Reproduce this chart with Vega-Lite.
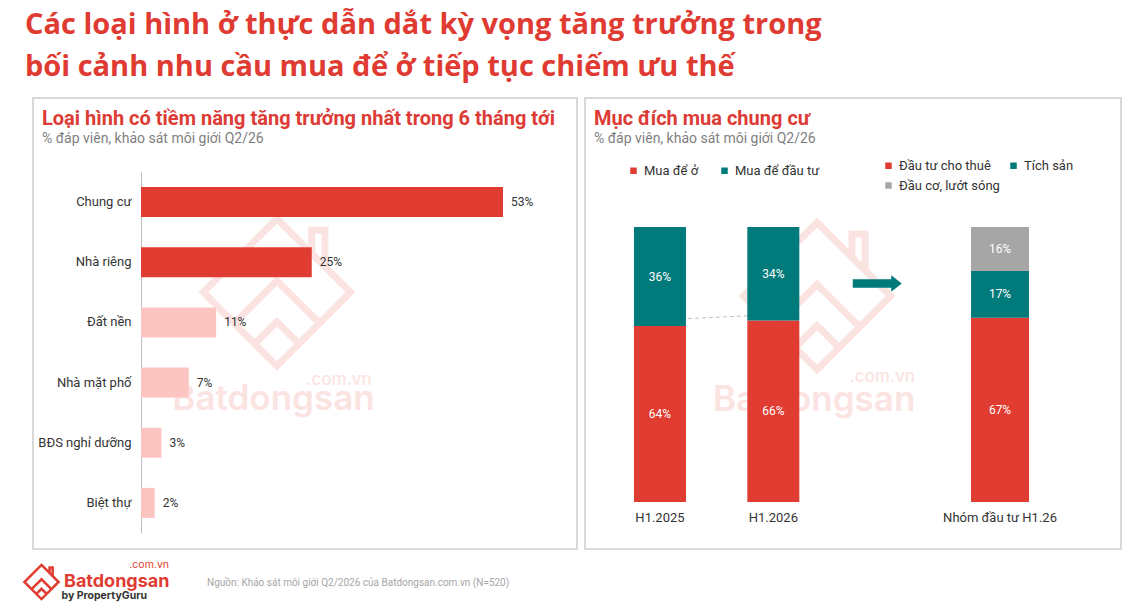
{
  "$schema": "https://vega.github.io/schema/vega-lite/v6.json",
  "background": "white",
  "padding": {"left": 22, "top": 11, "right": 0, "bottom": 0},
  "config": {"font": "Roboto", "view": {"stroke": "#d9d9d9", "strokeWidth": 2}},
  "title": {
    "text": ["Các loại hình ở thực dẫn dắt kỳ vọng tăng trưởng trong", "bối cảnh nhu cầu mua để ở tiếp tục chiếm ưu thế"],
    "font": "Open Sans", "fontSize": 29, "fontWeight": "bold", "color": "#df3b32",
    "anchor": "start", "frame": "bounds", "dx": 3, "lineHeight": 42, "offset": 15
  },
  "datasets": {
    "loai_hinh": [
      {"loai": "Chung cư", "v": 53},
      {"loai": "Nhà riêng", "v": 25},
      {"loai": "Đất nền", "v": 11},
      {"loai": "Nhà mặt phố", "v": 7},
      {"loai": "BĐS nghỉ dưỡng", "v": 3},
      {"loai": "Biệt thự", "v": 2}
    ],
    "muc_dich": [
      {"cat": "H1.2025", "k": "Mua để ở", "v": 64},
      {"cat": "H1.2025", "k": "Mua để đầu tư", "v": 36},
      {"cat": "H1.2026", "k": "Mua để ở", "v": 66},
      {"cat": "H1.2026", "k": "Mua để đầu tư", "v": 34}
    ],
    "nhom": [
      {"cat": "Nhóm đầu tư H1.26", "k": "Đầu tư cho thuê", "v": 67},
      {"cat": "Nhóm đầu tư H1.26", "k": "Tích sản", "v": 17},
      {"cat": "Nhóm đầu tư H1.26", "k": "Đầu cơ, lướt sóng", "v": 16}
    ]
  },
  "spacing": 0,
  "vconcat": [
    {
      "spacing": 8,
      "bounds": "flush",
      "hconcat": [
        {
          "width": 544,
          "height": 451,
          "title": {
            "text": "Loại hình có tiềm năng tăng trưởng nhất trong 6 tháng tới",
            "subtitle": "% đáp viên, khảo sát môi giới Q2/26",
            "anchor": "start", "frame": "group", "dx": 9, "offset": -48,
            "font": "Roboto", "fontSize": 20, "fontWeight": "bold", "color": "#dd3b35",
            "subtitleFont": "Roboto", "subtitleFontSize": 14, "subtitleColor": "#7f7f7f", "subtitlePadding": 3
          },
          "layer": [
            {
              "data": {"values": [{}]},
              "mark": {"type": "point", "shape": "M0,-0.95L0.95,0L0,0.95L-0.95,0Z M-0.55,0.4L0,-0.15L0.55,0.4 M-0.3,0.68L0,0.38L0.3,0.68 M0.45,-0.5L0.45,-0.8L0.62,-0.8L0.62,-0.33", "size": 24000, "filled": false, "strokeWidth": 7, "color": "#fbe3e2", "opacity": 1},
              "encoding": {
                "x": {"datum": 19.9, "type": "quantitative", "scale": {"domain": [0, 53], "range": [108, 470], "nice": false, "zero": true}, "axis": null},
                "y": {"datum": "Đất nền", "type": "nominal", "bandPosition": 0, "scale": {"domain": ["Chung cư", "Nhà riêng", "Đất nền", "Nhà mặt phố", "BĐS nghỉ dưỡng", "Biệt thự"], "range": [74, 435], "paddingInner": 0, "paddingOuter": 0}, "axis": {"title": null, "offset": -108, "ticks": false, "domainColor": "#bfbfbf", "domainWidth": 1, "labelPadding": 10, "labelFontSize": 13, "labelColor": "#333333", "labelFont": "Roboto"}}
              }
            },
            {
              "data": {"values": [{}]},
              "mark": {"type": "text", "text": "Batdongsan", "font": "Inter", "fontSize": 35, "fontWeight": 600, "color": "#fbe3e2"},
              "encoding": {
                "x": {"datum": 19.4, "type": "quantitative"},
                "y": {"datum": "Nhà mặt phố", "type": "nominal", "bandPosition": 0.78}
              }
            },
            {
              "data": {"values": [{}]},
              "mark": {"type": "text", "text": ".com.vn", "font": "Inter", "fontSize": 17, "fontWeight": 500, "color": "#fbe3e2", "align": "right"},
              "encoding": {
                "x": {"datum": 33.8, "type": "quantitative"},
                "y": {"datum": "Nhà mặt phố", "type": "nominal", "bandPosition": 0.45}
              }
            },
            {
              "data": {"name": "loai_hinh"},
              "mark": {"type": "bar", "size": 30},
              "encoding": {
                "x": {"field": "v", "type": "quantitative"},
                "y": {"field": "loai", "type": "nominal"},
                "color": {"condition": {"test": "datum.v >= 20", "value": "#e03c31"}, "value": "#fdc5c2"}
              }
            },
            {
              "data": {"name": "loai_hinh"},
              "transform": [{"calculate": "datum.v + '%'", "as": "lbl"}],
              "mark": {"type": "text", "align": "left", "dx": 8, "fontSize": 12, "color": "#333333"},
              "encoding": {
                "x": {"field": "v", "type": "quantitative"},
                "y": {"field": "loai", "type": "nominal"},
                "text": {"field": "lbl"}
              }
            }
          ]
        },
        {
          "width": 536,
          "height": 451,
          "title": {
            "text": "Mục đích mua chung cư",
            "subtitle": "% đáp viên, khảo sát môi giới Q2/26",
            "anchor": "start", "frame": "group", "dx": 9, "offset": -48,
            "font": "Roboto", "fontSize": 20, "fontWeight": "bold", "color": "#dd3b35",
            "subtitleFont": "Roboto", "subtitleFontSize": 14, "subtitleColor": "#7f7f7f", "subtitlePadding": 3
          },
          "encoding": {
            "x": {
              "field": "cat", "type": "nominal",
              "scale": {"domain": ["H1.2025", "H1.2026", " ", "Nhóm đầu tư H1.26"], "range": [18.3, 471.7], "paddingInner": 0, "paddingOuter": 0},
              "axis": {"title": null, "orient": "bottom", "offset": -47, "domain": false, "ticks": false, "labelPadding": 9, "labelFontSize": 13, "labelColor": "#333333", "labelFont": "Roboto", "labelAngle": 0}
            }
          },
          "layer": [
            {
              "data": {"values": [{}]},
              "mark": {"type": "point", "shape": "M0,-0.95L0.95,0L0,0.95L-0.95,0Z M-0.55,0.4L0,-0.15L0.55,0.4 M-0.3,0.68L0,0.38L0.3,0.68 M0.45,-0.5L0.45,-0.8L0.62,-0.8L0.62,-0.33", "size": 24000, "filled": false, "strokeWidth": 7, "color": "#fbe3e2", "opacity": 1},
              "encoding": {
                "x": {"datum": "H1.2026", "type": "nominal", "bandPosition": 0.886},
                "y": {"datum": 74.9, "type": "quantitative", "scale": {"domain": [0, 100], "range": [404, 129], "nice": false, "zero": false}, "axis": null}
              }
            },
            {
              "data": {"values": [{}]},
              "mark": {"type": "text", "text": "Batdongsan", "font": "Inter", "fontSize": 35, "fontWeight": 600, "color": "#fbe3e2"},
              "encoding": {
                "x": {"datum": "H1.2026", "type": "nominal", "bandPosition": 0.86},
                "y": {"datum": 37.2, "type": "quantitative", "scale": {"domain": [0, 100], "range": [404, 129], "nice": false, "zero": false}, "axis": null}
              }
            },
            {
              "data": {"values": [{}]},
              "mark": {"type": "text", "text": ".com.vn", "font": "Inter", "fontSize": 17, "fontWeight": 500, "color": "#fbe3e2", "align": "right"},
              "encoding": {
                "x": {"datum": " ", "type": "nominal", "bandPosition": 0.75},
                "y": {"datum": 45.5, "type": "quantitative", "scale": {"domain": [0, 100], "range": [404, 129], "nice": false, "zero": false}, "axis": null}
              }
            },
            {
              "data": {"name": "muc_dich"},
              "transform": [{"filter": "datum.k === 'Mua để ở'"}],
              "mark": {"type": "line", "strokeDash": [4, 3], "color": "#bfbfbf", "strokeWidth": 1, "yOffset": -6},
              "encoding": {
                "y": {"field": "v", "type": "quantitative", "scale": {"domain": [0, 100], "range": [404, 129], "nice": false, "zero": false}, "axis": null}
              }
            },
            {
              "data": {"name": "muc_dich"},
              "transform": [
                {"calculate": "indexof(['Mua để ở', 'Mua để đầu tư'], datum.k)", "as": "o"},
                {"stack": "v", "groupby": ["cat"], "sort": [{"field": "o", "order": "ascending"}], "as": ["v0", "v1"]},
                {"calculate": "(datum.v0 + datum.v1) / 2", "as": "mid"},
                {"calculate": "datum.v + '%'", "as": "lbl"}
              ],
              "layer": [
                {
                  "mark": {"type": "bar", "size": 52},
                  "encoding": {
                    "y": {"field": "v0", "type": "quantitative", "scale": {"domain": [0, 100], "range": [404, 129], "nice": false, "zero": false}, "axis": null},
                    "y2": {"field": "v1"},
                    "color": {
                      "field": "k", "type": "nominal",
                      "scale": {"domain": ["Mua để ở", "Mua để đầu tư"], "range": ["#e03c31", "#007a7b"]},
                      "legend": {"orient": "none", "legendX": 42, "legendY": 66, "direction": "horizontal", "columns": 2, "title": null, "symbolType": "square", "symbolSize": 42, "symbolStrokeWidth": 0, "labelFontSize": 13, "labelColor": "#333333", "labelFont": "Roboto", "labelOffset": 4, "columnPadding": 19}
                    }
                  }
                },
                {
                  "mark": {"type": "text", "color": "white", "fontSize": 12},
                  "encoding": {
                    "y": {"field": "mid", "type": "quantitative", "scale": {"domain": [0, 100], "range": [404, 129], "nice": false, "zero": false}, "axis": null},
                    "text": {"field": "lbl"}
                  }
                }
              ]
            },
            {
              "data": {"name": "nhom"},
              "transform": [
                {"calculate": "indexof(['Đầu tư cho thuê', 'Tích sản', 'Đầu cơ, lướt sóng'], datum.k)", "as": "o"},
                {"stack": "v", "groupby": ["cat"], "sort": [{"field": "o", "order": "ascending"}], "as": ["v0", "v1"]},
                {"calculate": "(datum.v0 + datum.v1) / 2", "as": "mid"},
                {"calculate": "datum.v + '%'", "as": "lbl"}
              ],
              "layer": [
                {
                  "mark": {"type": "bar", "size": 58},
                  "encoding": {
                    "y": {"field": "v0", "type": "quantitative", "scale": {"domain": [0, 100], "range": [404, 129], "nice": false, "zero": false}, "axis": null},
                    "y2": {"field": "v1"},
                    "color": {
                      "field": "k", "type": "nominal",
                      "scale": {"domain": ["Đầu tư cho thuê", "Tích sản", "Đầu cơ, lướt sóng"], "range": ["#e03c31", "#007a7b", "#a6a6a6"]},
                      "legend": {"orient": "none", "legendX": 297, "legendY": 61, "direction": "horizontal", "columns": 2, "title": null, "symbolType": "square", "symbolSize": 42, "symbolStrokeWidth": 0, "labelFontSize": 13, "labelColor": "#333333", "labelFont": "Roboto", "labelOffset": 4, "columnPadding": 7, "rowPadding": 6}
                    }
                  }
                },
                {
                  "mark": {"type": "text", "color": "white", "fontSize": 12},
                  "encoding": {
                    "y": {"field": "mid", "type": "quantitative", "scale": {"domain": [0, 100], "range": [404, 129], "nice": false, "zero": false}, "axis": null},
                    "text": {"field": "lbl"}
                  }
                }
              ]
            },
            {
              "data": {"values": [{}]},
              "mark": {"type": "point", "shape": "M-1,-0.17L0.57,-0.17L0.57,-0.34L1,0L0.57,0.34L0.57,0.17L-1,0.17Z", "size": 2401, "filled": true, "color": "#007a7b", "opacity": 1, "strokeWidth": 0},
              "encoding": {
                "x": {"datum": " ", "type": "nominal", "bandPosition": 0.417},
                "y": {"datum": 79.45, "type": "quantitative", "scale": {"domain": [0, 100], "range": [404, 129], "nice": false, "zero": false}, "axis": null}
              }
            }
          ],
          "resolve": {"scale": {"color": "independent"}, "legend": {"color": "independent"}}
        }
      ]
    },
    {
      "width": 1100,
      "height": 55,
      "view": {"stroke": null},
      "title": {
        "text": "Nguồn: Khảo sát môi giới Q2/2026 của Batdongsan.com.vn (N=520)",
        "anchor": "start", "frame": "group", "dx": 174, "offset": -38,
        "font": "Roboto", "fontSize": 10, "fontWeight": "normal", "color": "#a6a6a6"
      },
      "data": {"values": [{"brand": "Batdongsan", "by": "by PropertyGuru"}]},
      "mark": {"type": "point", "opacity": 0},
      "encoding": {
        "color": {
          "field": "brand", "type": "nominal",
          "scale": {"range": ["#e03c31"]},
          "legend": {"orient": "none", "legendX": -11, "legendY": 10, "title": ".com.vn", "titleAnchor": "end", "titleFontSize": 10.5, "titleFontWeight": "normal", "titleFont": "Inter", "titleColor": "#e03c31", "titlePadding": -8, "symbolType": "M0,-0.95L0.95,0L0,0.95L-0.95,0Z M-0.55,0.4L0,-0.15L0.55,0.4 M-0.3,0.68L0,0.38L0.3,0.68 M0.45,-0.5L0.45,-0.8L0.62,-0.8L0.62,-0.33", "symbolSize": 1296, "symbolStrokeWidth": 2.5, "symbolOpacity": 1, "labelFontSize": 18, "labelFont": "Inter", "labelFontWeight": "bold", "labelColor": "#e03c31", "labelOffset": 3}
        },
        "shape": {
          "field": "by", "type": "nominal",
          "legend": {"orient": "none", "legendX": 18, "legendY": 41, "title": null, "symbolOpacity": 0, "symbolSize": 1, "labelOffset": 0, "labelFontSize": 10.5, "labelFont": "Inter", "labelFontWeight": "bold", "labelColor": "#333333"}
        }
      }
    }
  ],
  "resolve": {"scale": {"color": "independent", "shape": "independent"}, "legend": {"color": "independent", "shape": "independent"}}
}
